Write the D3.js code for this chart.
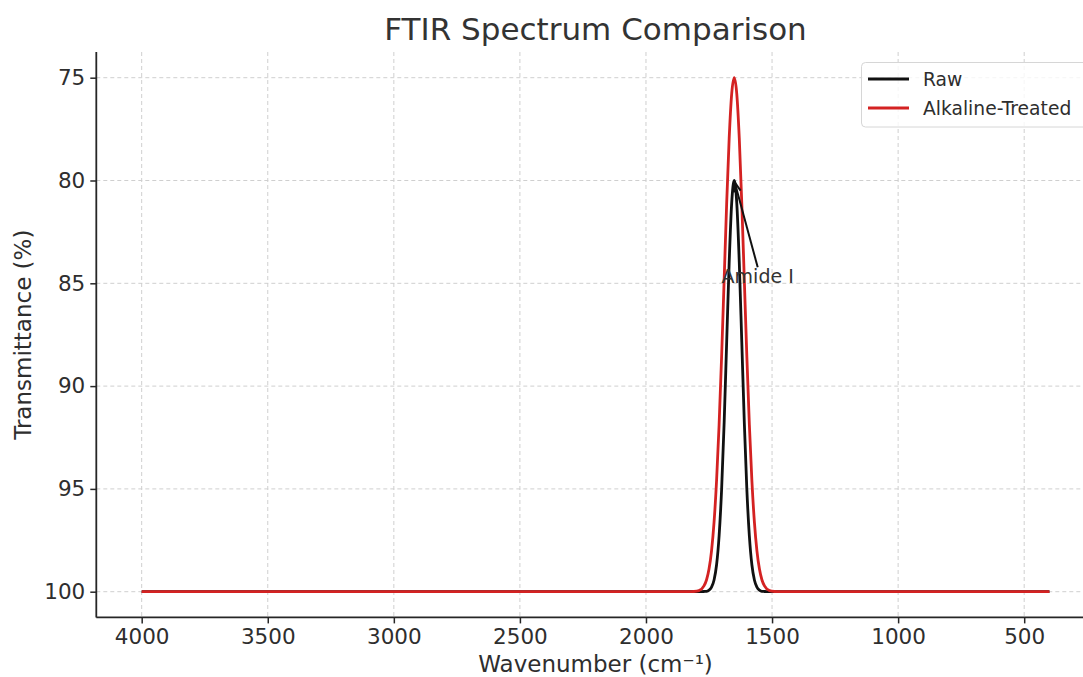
<!DOCTYPE html>
<html>
<head>
<meta charset="utf-8">
<script src="https://cdn.jsdelivr.net/npm/d3@7"></script>
<style>
  body { margin: 0; background: #fff; }
  svg { display: block; font-family: "DejaVu Sans", sans-serif; }
</style>
</head>
<body>
<svg class="js-graph"></svg>
<script>
(function ftirChart(d3) {
  /* <DATA> */
  var wavenumbers = [4000, 1830, 1810, 1790, 1770, 1760, 1750, 1740, 1730, 1720, 1710,
    1700, 1690, 1680, 1670, 1660, 1650, 1640, 1630, 1620, 1610, 1600, 1590,
    1580, 1570, 1560, 1550, 1540, 1530, 1510, 1490, 1470, 400];
  var rawValues = [100, 100, 100, 100, 99.99, 99.98, 99.92, 99.78, 99.43, 98.69, 97.29,
    95.02, 91.78, 87.87, 83.98, 81.08, 80, 81.08, 83.98, 87.87, 91.78, 95.02,
    97.29, 98.69, 99.43, 99.78, 99.92, 99.98, 99.99, 100, 100, 100, 100];
  var treatedValues = [100, 100, 99.99, 99.95, 99.72, 99.43, 98.90, 98.01, 96.62, 94.59, 91.88,
    88.55, 84.84, 81.12, 77.94, 75.77, 75, 75.77, 77.94, 81.12, 84.84, 88.55,
    91.88, 94.59, 96.62, 98.01, 98.90, 99.43, 99.72, 99.95, 99.99, 100, 100];
  var xTicks = [4000, 3500, 3000, 2500, 2000, 1500, 1000, 500];
  var yTicks = [75, 80, 85, 90, 95, 100];
  var seriesNames = ['Raw', 'Alkaline-Treated'];
  var seriesColors = ['#111111', '#d42222'];
  var annotation = { label: 'Amide I', x: 1650, y: 80, textX: 1700, textY: 85 };
  /* </DATA> */

  var width = 1083;
  var height = 677;
  var margin = { top: 52, left: 96.3 };
  var plotW = 998.5; // right part of the axes falls outside the picture
  var plotH = 565.4;
  var textColor = '#2e2e2e';

  var svg = d3.select('.js-graph').attr('width', width).attr('height', height);
  var g = svg.append('g').attr('transform', 'translate(' + margin.left + ',' + margin.top + ')');

  var xScale = d3.scaleLinear().domain([4180, 220]).range([0, plotW]);
  var yScale = d3.scaleLinear().domain([73.75, 101.25]).range([0, plotH]);

  // GRID
  g.append('g').selectAll('line').data(xTicks).enter().append('line')
    .attr('x1', function (d) { return xScale(d); })
    .attr('x2', function (d) { return xScale(d); })
    .attr('y1', 0).attr('y2', plotH)
    .attr('stroke', '#cfcfcf').attr('stroke-width', 1).attr('stroke-dasharray', '4,3');
  g.append('g').selectAll('line').data(yTicks).enter().append('line')
    .attr('x1', 0).attr('x2', plotW)
    .attr('y1', function (d) { return yScale(d); })
    .attr('y2', function (d) { return yScale(d); })
    .attr('stroke', '#cfcfcf').attr('stroke-width', 1).attr('stroke-dasharray', '4,3');

  // LINES
  var series = [rawValues, treatedValues];
  var line = d3.line()
    .x(function (d) { return xScale(d[0]); })
    .y(function (d) { return yScale(d[1]); })
    .curve(d3.curveMonotoneX);
  series.forEach(function (vals, i) {
    var pts = wavenumbers.map(function (w, j) { return [w, vals[j]]; });
    g.append('path')
      .attr('d', line(pts))
      .attr('fill', 'none')
      .attr('stroke', seriesColors[i])
      .attr('stroke-width', 2.8)
      .attr('stroke-linejoin', 'round');
  });

  // AXES
  var xAxis = g.append('g').attr('transform', 'translate(0,' + plotH + ')')
    .call(d3.axisBottom(xScale).tickValues(xTicks).tickSize(6).tickPadding(5).tickFormat(d3.format('d')));
  var yAxis = g.append('g')
    .call(d3.axisLeft(yScale).tickValues(yTicks).tickSize(6).tickPadding(5).tickFormat(d3.format('d')));
  [xAxis, yAxis].forEach(function (axis) {
    axis.select('.domain').attr('stroke', '#262626').attr('stroke-width', 1.8);
    axis.selectAll('.tick line').attr('stroke', '#262626').attr('stroke-width', 1.5);
    axis.selectAll('.tick text').attr('fill', textColor).style('font-size', '21.5px')
      .style('font-family', '"DejaVu Sans", sans-serif');
  });
  xAxis.select('.domain').attr('d', 'M0,0H' + plotW);
  yAxis.select('.domain').attr('d', 'M0,0V' + plotH);

  // ANNOTATION
  var ax = xScale(annotation.x);
  var ay = yScale(annotation.y);
  var label = g.append('text')
    .attr('x', xScale(annotation.textX)).attr('y', yScale(annotation.textY))
    .attr('fill', '#333').style('font-size', '19px')
    .text(annotation.label);
  var bb = label.node().getBBox();
  var sx = bb.x + bb.width / 2;
  var sy = bb.y;
  var ang = Math.atan2(ay - sy, ax - sx);
  var ex = ax - Math.cos(ang) * 2;
  var ey = ay - Math.sin(ang) * 2;
  g.append('line')
    .attr('x1', sx).attr('y1', sy + 2).attr('x2', ex).attr('y2', ey)
    .attr('stroke', '#111').attr('stroke-width', 2);
  [0.35, -0.35].forEach(function (da) {
    g.append('line')
      .attr('x1', ex).attr('y1', ey)
      .attr('x2', ex - Math.cos(ang + da) * 10)
      .attr('y2', ey - Math.sin(ang + da) * 10)
      .attr('stroke', '#111').attr('stroke-width', 2);
  });

  // LEGEND
  var lg = svg.append('g').attr('transform', 'translate(861.5,62.5)');
  lg.append('rect')
    .attr('width', 240).attr('height', 64.5).attr('rx', 4)
    .attr('fill', '#fff').attr('fill-opacity', 0.8)
    .attr('stroke', '#d6d6d6').attr('stroke-width', 1);
  seriesNames.forEach(function (name, i) {
    var yy = 16.5 + i * 29;
    lg.append('line')
      .attr('x1', 6.5).attr('x2', 47.5).attr('y1', yy).attr('y2', yy)
      .attr('stroke', seriesColors[i]).attr('stroke-width', 2.8);
    lg.append('text')
      .attr('x', 61.5).attr('y', yy + 6.5)
      .attr('fill', textColor).style('font-size', '18.7px')
      .text(name);
  });

  // TITLES
  svg.append('text')
    .attr('x', margin.left + plotW / 2).attr('y', 40)
    .attr('text-anchor', 'middle').attr('fill', '#333')
    .style('font-size', '31px')
    .text('FTIR Spectrum Comparison');
  svg.append('text')
    .attr('x', margin.left + plotW / 2).attr('y', 672)
    .attr('text-anchor', 'middle').attr('fill', textColor)
    .style('font-size', '23px')
    .text('Wavenumber (cm\u207B\u00B9)');
  svg.append('text')
    .attr('transform', 'translate(31,' + (margin.top + plotH / 2) + ') rotate(-90)')
    .attr('text-anchor', 'middle').attr('fill', textColor)
    .style('font-size', '23px')
    .text('Transmittance (%)');
}(d3));
</script>
</body>
</html>
